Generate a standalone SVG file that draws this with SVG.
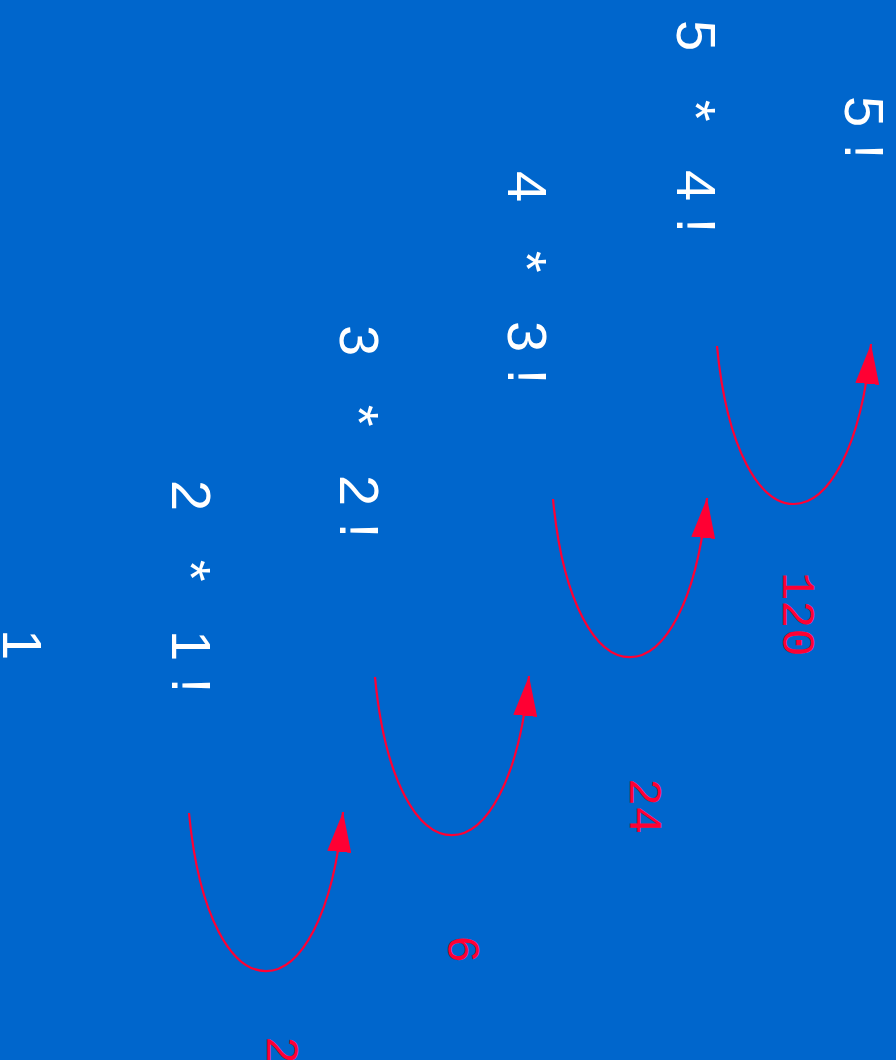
<svg xmlns="http://www.w3.org/2000/svg" width="896" height="1060" viewBox="0 0 896 1060">
<style>
.t{font-family:"Liberation Sans",Arial,sans-serif;font-size:56px;letter-spacing:16.5px;fill:#ffffff}
.r{font-family:"Liberation Mono","Courier New",monospace;font-size:47px;fill:#ff0033}
.c{fill:none;stroke:#ff0033;stroke-width:2.2}
</style>
<defs>
<marker id="ah" markerUnits="userSpaceOnUse" viewBox="0 0 40 24" refX="40" refY="12" markerWidth="40" markerHeight="24" orient="auto">
<path d="M0,0 L40,12 L0,24 Z" fill="#ff0033"/>
</marker>
</defs>
<rect width="896" height="1060" fill="#0066cc"/>
<g id="n1"><text class="t" transform="translate(845,96) rotate(90)">5!</text></g>
<g id="n2"><text class="t" transform="translate(677,20) rotate(90)">5 * 4!</text></g>
<g id="n3"><text class="t" transform="translate(508,171) rotate(90)">4 * 3!</text></g>
<g id="n4"><text class="t" transform="translate(340,325) rotate(90)">3 * 2!</text></g>
<g id="n5"><text class="t" transform="translate(172,480) rotate(90)">2 * 1!</text></g>
<g id="n6"><text class="t" transform="translate(3,629) rotate(90)">1</text></g>
<g id="connectors">
<path class="c" marker-end="url(#ah)" d="M717,346 C737,557 851,557 871,344"/>
<path class="c" marker-end="url(#ah)" d="M553,499 C573,710 687,710 707,498"/>
<path class="c" marker-end="url(#ah)" d="M375,677 C395,888 509,888 529,676"/>
<path class="c" marker-end="url(#ah)" d="M189,813 C209,1024 323,1024 343,812"/>
</g>
<g id="labels">
<text class="r" transform="translate(783,572) rotate(90)">120</text>
<text class="r" transform="translate(630,778) rotate(90)">24</text>
<text class="r" transform="translate(448,935) rotate(90)">6</text>
<text class="r" transform="translate(267,1036) rotate(90)">2</text>
</g>
</svg>
